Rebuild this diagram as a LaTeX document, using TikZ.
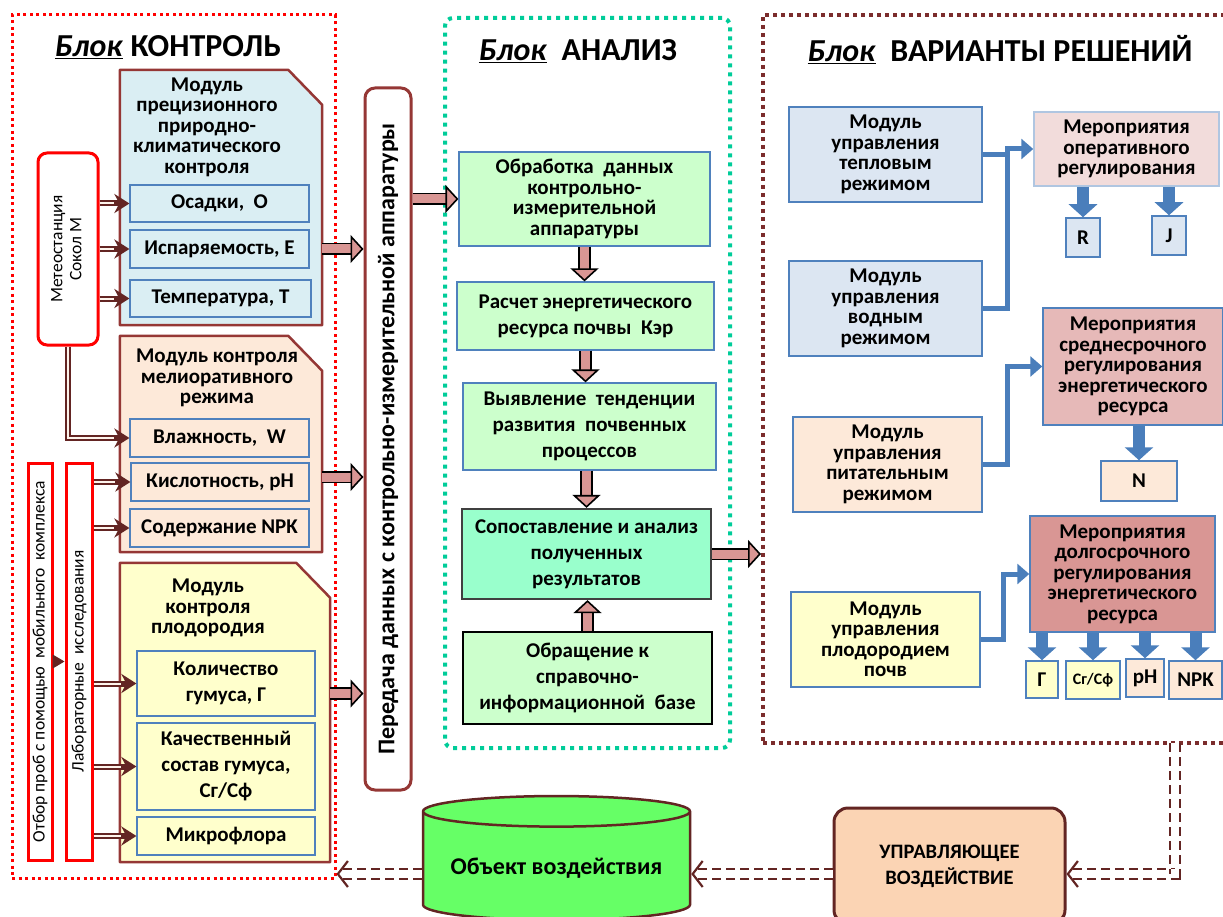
\documentclass[tikz,border=0pt]{standalone}
\usepackage{fontspec}
\setmainfont{Carlito}
\usetikzlibrary{arrows.meta,shapes.geometric}
\definecolor{frRed}{HTML}{FF0000}
\definecolor{frTeal}{HTML}{00CC99}
\definecolor{frBrn}{HTML}{7B2C2C}
\definecolor{mBrn}{HTML}{953735}
\definecolor{dBrn}{HTML}{632523}
\definecolor{sBlue}{HTML}{4F81BD}
\definecolor{bBlue}{HTML}{4A7EBB}
\definecolor{cBlue}{HTML}{DAEEF3}
\definecolor{cPeach}{HTML}{FDE9D9}
\definecolor{cYell}{HTML}{FFFFCC}
\definecolor{cGreen}{HTML}{CCFFCC}
\definecolor{cMint}{HTML}{99FFCC}
\definecolor{cGray}{HTML}{DCE6F2}
\definecolor{cRose}{HTML}{F2DCDB}
\definecolor{cRose2}{HTML}{E6B9B8}
\definecolor{cRose3}{HTML}{D99694}
\definecolor{cLime}{HTML}{66FF66}
\definecolor{cOrng}{HTML}{FBD4B4}
\definecolor{pArr}{HTML}{D99694}
\newcommand\txtb{\fontsize{21}{20.5}\selectfont\bfseries}
\newcommand\txtw{\fontsize{21}{26}\selectfont\bfseries}
\newcommand\txtr{\fontsize{17.5}{19}\selectfont}
\newcommand\blk{\underline{\textit{Блок}}}
\tikzset{
  frK/.style={draw=frRed, line width=3pt, dash pattern=on 3pt off 3.5pt},
  frA/.style={draw=frTeal, line width=4pt, dash pattern=on 4pt off 5pt, rounded corners=8pt},
  frV/.style={draw=frBrn, line width=4pt, dash pattern=on 4pt off 4pt},
  ttl/.style={font=\fontsize{32}{34}\selectfont\bfseries, inner sep=0pt},
  modarea/.style={inner sep=0pt},
  modline/.style={draw=mBrn, line width=2.5pt, line join=round},
  modtxt/.style={font=\txtb, align=center, inner sep=0pt},
  subbox/.style={draw=sBlue, line width=1.2pt, font=\txtb, align=center, inner sep=1pt},
  redbox/.style={draw=frRed, line width=3pt, fill=white, inner sep=0pt, font=\txtr},
  trbox/.style={draw=mBrn, line width=3pt, rounded corners=10pt, fill=white, inner sep=0pt},
  grbox/.style={draw=sBlue, line width=1.2pt, fill=cGreen, font=\txtw, align=center, inner sep=1pt},
  rbox/.style={draw=sBlue, line width=1.5pt, font=\txtb, align=center, inner sep=1pt},
  dblarr/.style={draw=dBrn, line width=6pt, -{Stealth[length=15pt,width=19pt]}, postaction={draw=cPeach!50!white, line width=2pt, -, shorten >=15pt}},
  pkarr/.style={draw=black, line width=1.6pt, double=pArr, double distance=9pt, -{Triangle[length=13pt,width=28pt,fill=pArr]}},
  blline/.style={draw=bBlue, line width=5pt},
  blarr/.style={blline, -{Triangle[length=12pt,width=20pt]}},
  bldown/.style={draw=bBlue, line width=12pt, -{Triangle[length=13pt,width=28pt]}},
  dsharr/.style={draw=dBrn, line width=2.2pt, dash pattern=on 9pt off 5pt, double=white, double distance=8pt, -{Straight Barb[length=10pt,width=26pt]}}
}
\begin{document}
\begin{tikzpicture}[x=1pt,y=-1pt]
\useasboundingbox (0,0) rectangle (1223,917);

\node[frK, minimum width=323pt, minimum height=863pt] (fK) at (173.5,446.5) {};
\node[frA, minimum width=285pt, minimum height=730pt] (fA) at (587.5,383) {};
\node[frV, minimum width=467pt, minimum height=728pt] (fV) at (996.5,379) {};

\node[ttl] (tK) at (168,47) {\blk{} КОНТРОЛЬ};
\node[ttl] (tA) at (578,51) {\blk\ \ АНАЛИЗ};
\node[ttl] (tV) at (1000,50) {\blk\ \ ВАРИАНТЫ РЕШЕНИЙ};

\node[modarea, minimum width=202pt, minimum height=255pt] (m1) at (221,197.5) {};
\draw[modline, fill=cBlue] (m1.south west) -- (m1.north west) -- ([xshift=-34pt]m1.north east) -- ([yshift=-35pt]m1.north east) -- (m1.south east) -- cycle;
\node[modtxt] (m1t) at (207,127) {Модуль\\прецизионного\\природно-\\климатического\\контроля};
\node[subbox, fill=cBlue, minimum width=179pt, minimum height=37pt] (os) at (219.5,203.5) {Осадки,~ О};
\node[subbox, fill=cBlue, minimum width=179pt, minimum height=38pt] (isp) at (219.5,249) {Испаряемость, Е};
\node[subbox, fill=cBlue, minimum width=181pt, minimum height=37pt] (tem) at (220.5,298.5) {Температура, Т};

\node[modarea, minimum width=202pt, minimum height=216pt] (m2) at (221,444) {};
\draw[modline, fill=cPeach] (m2.south west) -- (m2.north west) -- ([xshift=-34pt]m2.north east) -- ([yshift=-35pt]m2.north east) -- (m2.south east) -- cycle;
\node[modtxt] (m2t) at (217,378) {Модуль контроля\\мелиоративного\\режима};
\node[subbox, fill=cPeach, minimum width=179pt, minimum height=38pt] (vl) at (219.5,438) {Влажность,~ W};
\node[subbox, fill=cPeach, minimum width=178pt, minimum height=38pt] (kis) at (220,482) {Кислотность, рН};
\node[subbox, fill=cPeach, minimum width=179pt, minimum height=38pt] (npk) at (219.5,528) {Содержание NPK};

\node[modarea, minimum width=210pt, minimum height=299pt] (m3) at (225,712.5) {};
\draw[modline, fill=cYell] (m3.south west) -- (m3.north west) -- ([xshift=-34pt]m3.north east) -- ([yshift=-35pt]m3.north east) -- (m3.south east) -- cycle;
\node[modtxt] (m3t) at (208,608) {Модуль\\контроля\\плодородия};
\node[subbox, fill=cYell, font=\txtw, minimum width=178pt, minimum height=65pt] (kol) at (226,683.5) {Количество\\гумуса, Г};
\node[subbox, fill=cYell, font=\txtw, minimum width=178pt, minimum height=87pt] (kach) at (226,766.5) {Качественный\\состав гумуса,\\Сг/Сф};
\node[subbox, fill=cYell, minimum width=178pt, minimum height=38pt] (mik) at (226,836) {Микрофлора};

\node[redbox, rounded corners=9pt, minimum width=60pt, minimum height=192pt] (met) at (68,249) {\rotatebox{90}{\begin{tabular}{@{}c@{}}Метеостанция\\Сокол М\end{tabular}}};
\node[redbox, minimum width=24pt, minimum height=397pt] (otb) at (40,661.5) {\rotatebox{90}{Отбор проб с помощью~ мобильного~ комплекса}};
\node[redbox, minimum width=26pt, minimum height=397pt] (lab) at (79,661.5) {\rotatebox{90}{Лабораторные~ исследования}};

\node[trbox, minimum width=46pt, minimum height=702pt] (tr) at (388,439) {\rotatebox{90}{\fontsize{24}{25}\selectfont\bfseries Передача данных с контрольно-измерительной аппаратуры}};

\node[grbox, font=\txtb, minimum width=251pt, minimum height=94pt] (ob) at (584.5,199) {Обработка~ данных\\контрольно-\\измерительной\\аппаратуры};
\node[grbox, minimum width=257pt, minimum height=68pt] (ras) at (585.5,316) {Расчет энергетического\\ресурса почвы~ Кэр};
\node[grbox, minimum width=253pt, minimum height=87pt] (vyy) at (589.5,426.5) {Выявление~ тенденции\\развития~ почвенных\\процессов};
\node[grbox, fill=cMint, draw=black!75, line width=2.2pt, minimum width=249pt, minimum height=90pt] (sop) at (586.5,554) {Сопоставление и анализ\\полученных\\результатов};
\node[grbox, draw=black, line width=1.6pt, minimum width=249pt, minimum height=92pt] (obr) at (587.5,678) {Обращение к\\справочно-\\информационной~ базе};

\node[rbox, fill=cGray, minimum width=193pt, minimum height=95pt] (tep) at (885.5,154.5) {Модуль\\управления\\тепловым\\режимом};
\node[rbox, fill=cGray, minimum width=193pt, minimum height=95pt] (vod) at (885.5,308.5) {Модуль\\управления\\водным\\режимом};
\node[rbox, fill=cPeach, minimum width=189pt, minimum height=95pt] (pit) at (887.5,464.5) {Модуль\\управления\\питательным\\режимом};
\node[rbox, fill=cYell, minimum width=189pt, minimum height=95pt] (plo) at (885.5,639.5) {Модуль\\управления\\плодородием\\почв};

\node[rbox, fill=cRose, draw=sBlue!45, minimum width=185pt, minimum height=74pt] (opr) at (1126.5,149) {Мероприятия\\оперативного\\регулирования};
\node[rbox, fill=cGray, minimum width=34pt, minimum height=39pt] (R) at (1083,237.5) {R};
\node[rbox, fill=cGray, minimum width=34pt, minimum height=39pt] (J) at (1169,235.5) {J};
\node[rbox, fill=cRose2, minimum width=180pt, minimum height=117pt] (sre) at (1133,366.5) {Мероприятия\\среднесрочного\\регулирования\\энергетического\\ресурса};
\node[rbox, fill=cPeach, minimum width=76pt, minimum height=40pt] (N) at (1139,481) {N};
\node[rbox, fill=cRose3, minimum width=185pt, minimum height=116pt] (dol) at (1122.5,574) {Мероприятия\\долгосрочного\\регулирования\\энергетического\\ресурса};
\node[rbox, fill=cYell, minimum width=32pt, minimum height=37pt] (g) at (1042,679.5) {Г};
\node[rbox, fill=cYell, font=\fontsize{16}{17}\selectfont\bfseries, minimum width=54pt, minimum height=38pt] (sgsf) at (1093,680) {Сг/Сф};
\node[rbox, fill=cPeach, minimum width=38pt, minimum height=38pt] (ph) at (1145,678) {рН};
\node[rbox, fill=cPeach, minimum width=53pt, minimum height=38pt] (npk2) at (1195.5,680) {NPK};

\node[cylinder, shape border rotate=90, aspect=0.14, draw=dBrn, line width=2.5pt, fill=cLime, minimum width=267pt, minimum height=124pt, font=\fontsize{24}{25}\selectfont\bfseries] (cyl) at (556.5,868) {Объект воздействия};
\node[draw=dBrn, line width=3pt, fill=cOrng, rounded corners=14pt, minimum width=231pt, minimum height=116pt, align=center, font=\fontsize{20.5}{26}\selectfont\bfseries] (upr) at (949.5,866) {УПРАВЛЯЮЩЕЕ\\ВОЗДЕЙСТВИЕ};
\coordinate (vb) at (1175,743);

\draw[dblarr] (met.east |- os.west) -- (os.west);
\draw[dblarr] (met.east |- isp.west) -- (isp.west);
\draw[dblarr] (met.east |- tem.west) -- (tem.west);
\draw[dblarr] (met.south) |- (vl.west);
\draw[dblarr] (lab.east |- kis.west) -- (kis.west);
\draw[dblarr] (lab.east |- npk.west) -- (npk.west);
\draw[dblarr] (lab.east |- kol.west) -- (kol.west);
\draw[dblarr] (lab.east |- kach.west) -- (kach.west);
\draw[dblarr] (lab.east |- mik.west) -- (mik.west);
\draw[draw=dBrn, line width=1pt, -{Triangle[length=12pt,width=14pt]}] (otb.east) -- (lab.west);

\draw[pkarr] (isp.east -| m1.east) -- (isp.east -| tr.west);
\draw[pkarr] ([yshift=5pt]kis.east -| m2.east) -- ([yshift=5pt]kis.east -| tr.west);
\draw[pkarr] ([yshift=-10pt]kol.east -| m3.east) -- ([yshift=-10pt]kol.east -| tr.west);
\draw[pkarr] (tr.east |- ob.west) -- (ob.west);
\draw[pkarr] (ob.south) -- (ob.south |- ras.north);
\draw[pkarr] (ras.south) -- (ras.south |- vyy.north);
\draw[pkarr] (sop.north |- vyy.south) -- (sop.north);
\draw[pkarr] (obr.north) -- (obr.north |- sop.south);
\draw[pkarr] (sop.east) -- (sop.east -| fV.west);

\draw[blline] (tep.east) -- ++(25,0);
\draw[blarr] (vod.east) -- ++(25,0) |- (opr.west);
\draw[blarr] (pit.east) -- ++(25,0) |- (sre.west);
\draw[blarr] (plo.east) -- ++(23,0) |- (dol.west);
\draw[bldown] (opr.south -| R.north) -- (R.north);
\draw[bldown] (opr.south -| J.north) -- (J.north);
\draw[bldown] (sre.south -| N.north) -- (N.north);
\draw[bldown] (dol.south -| g.north) -- (g.north);
\draw[bldown] (dol.south -| sgsf.north) -- (sgsf.north);
\draw[bldown] (dol.south -| ph.north) -- (ph.north);
\draw[bldown] (dol.south -| npk2.north) -- (npk2.north);

\draw[dsharr] (vb) |- ([yshift=-8pt]upr.east);
\draw[dsharr] ([yshift=-8pt]upr.west) -- ([yshift=-8pt]upr.west -| cyl.east);
\draw[dsharr] ([yshift=-8pt]upr.west -| cyl.west) -- ([yshift=-8pt]upr.west -| fK.east);
\end{tikzpicture}
\end{document}
